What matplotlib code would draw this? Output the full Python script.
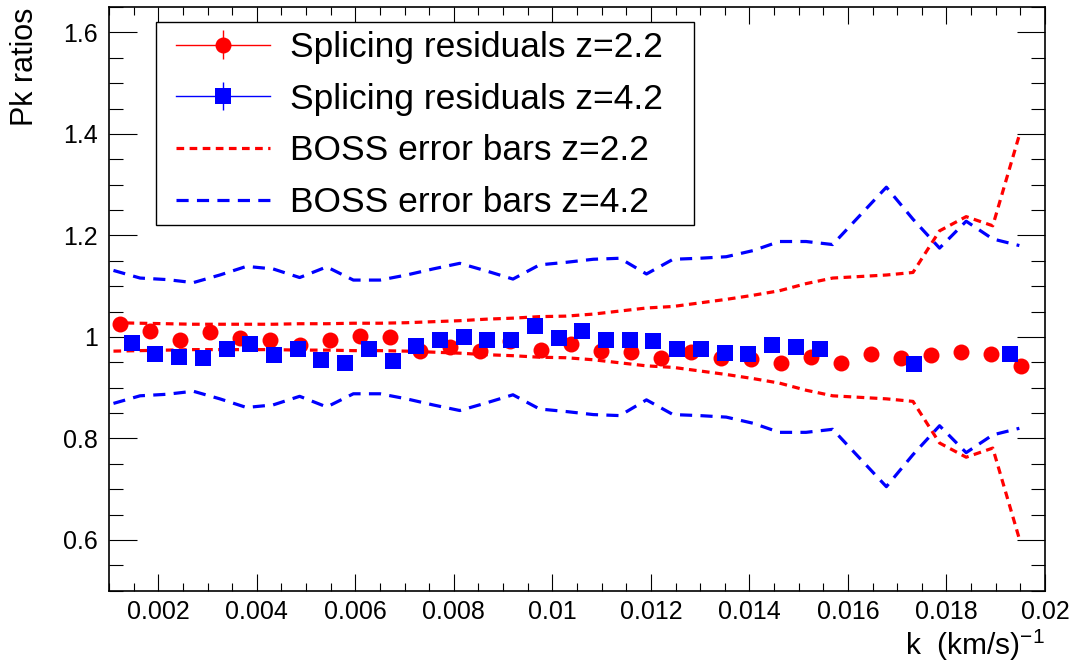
import numpy as np
import matplotlib
matplotlib.use('Agg')
import matplotlib.pyplot as plt
from matplotlib.ticker import MultipleLocator, FuncFormatter
from matplotlib.legend_handler import HandlerErrorbar
from matplotlib.patches import Rectangle

plt.rcParams['font.family'] = ['Liberation Sans', 'DejaVu Sans']
plt.rcParams['mathtext.fontset'] = 'custom'
plt.rcParams['mathtext.rm'] = 'Liberation Sans'

# splicing residuals, z=2.2 (red circles)
k_z22 = [0.00122, 0.00183, 0.00244, 0.00305, 0.00366, 0.00427, 0.00488, 0.00549,
         0.00610, 0.00671, 0.00732, 0.00793, 0.00854, 0.00915, 0.00976, 0.01037,
         0.01098, 0.01159, 0.01220, 0.01281, 0.01342, 0.01403, 0.01464, 0.01525,
         0.01586, 0.01647, 0.01708, 0.01769, 0.01830, 0.01891, 0.01952]
res_z22 = [1.026, 1.012, 0.994, 1.009, 0.997, 0.994, 0.984, 0.994,
           1.001, 0.999, 0.972, 0.980, 0.972, 0.992, 0.974, 0.986,
           0.972, 0.971, 0.959, 0.971, 0.959, 0.956, 0.949, 0.961,
           0.949, 0.967, 0.959, 0.964, 0.970, 0.966, 0.943]

# splicing residuals, z=4.2 (blue squares)
k_z42 = [0.00146, 0.00194, 0.00242, 0.00290, 0.00339, 0.00387, 0.00435, 0.00483,
         0.00531, 0.00579, 0.00628, 0.00676, 0.00724, 0.00772, 0.00820, 0.00868,
         0.00917, 0.00965, 0.01013, 0.01061, 0.01109, 0.01157, 0.01205, 0.01254,
         0.01302, 0.01350, 0.01398, 0.01446, 0.01494, 0.01543, 0.01735, 0.01929]
res_z42 = [0.989, 0.967, 0.961, 0.959, 0.976, 0.987, 0.965, 0.976,
           0.954, 0.949, 0.977, 0.953, 0.982, 0.994, 1.000, 0.994,
           0.994, 1.022, 0.997, 1.012, 0.994, 0.994, 0.992, 0.977,
           0.977, 0.969, 0.966, 0.984, 0.980, 0.976, 0.946, 0.966]

# BOSS relative errors
k_boss = [0.00109, 0.00163, 0.00217, 0.00271, 0.00325, 0.00379, 0.00433, 0.00487,
          0.00542, 0.00596, 0.00650, 0.00704, 0.00758, 0.00812, 0.00866, 0.00920,
          0.00974, 0.01028, 0.01083, 0.01137, 0.01191, 0.01245, 0.01299, 0.01353,
          0.01407, 0.01461, 0.01515, 0.01569, 0.01624, 0.01678, 0.01732, 0.01786,
          0.01840, 0.01894, 0.01948]
sig_z22 = [0.028, 0.027, 0.026, 0.025, 0.025, 0.025, 0.025, 0.026,
           0.026, 0.027, 0.027, 0.028, 0.030, 0.032, 0.035, 0.037,
           0.040, 0.041, 0.045, 0.051, 0.057, 0.060, 0.067, 0.074,
           0.082, 0.091, 0.105, 0.116, 0.119, 0.122, 0.127, 0.209,
           0.237, 0.219, 0.398]
sig_z42 = [0.131, 0.116, 0.113, 0.107, 0.122, 0.139, 0.134, 0.117,
           0.138, 0.112, 0.112, 0.122, 0.134, 0.145, 0.130, 0.114,
           0.142, 0.147, 0.153, 0.155, 0.124, 0.153, 0.155, 0.158,
           0.170, 0.188, 0.188, 0.182, 0.239, 0.295, 0.232, 0.175,
           0.228, 0.193, 0.180]

labels = ['Splicing residuals z=2.2', 'Splicing residuals z=4.2',
          'BOSS error bars z=2.2', 'BOSS error bars z=4.2']

fig = plt.figure(figsize=(10.71, 6.62), dpi=100)
ax = fig.add_axes([0.1018, 0.1077, 0.8739, 0.8817])

# points (drawn with a line for the legend, line removed afterwards)
e1 = ax.errorbar(k_z22, res_z22, yerr=np.zeros(len(k_z22)), fmt='-o', color='red',
                 ms=11.5, lw=1, elinewidth=1, capsize=0, mew=0)
e2 = ax.errorbar(k_z42, res_z42, yerr=np.zeros(len(k_z42)), fmt='-s', color='blue',
                 ms=11.3, lw=1, elinewidth=1, capsize=0, mew=0)

# BOSS envelopes 1 +/- sigma
kb = np.array(k_boss)
s22 = np.array(sig_z22)
s42 = np.array(sig_z42)
l3, = ax.plot(kb, 1 + s22, color='red', lw=2.3, dashes=(2.4, 1.7))
ax.plot(kb, 1 - s22, color='red', lw=2.3, dashes=(2.4, 1.7))
l4, = ax.plot(kb, 1 + s42, color='blue', lw=2.3, dashes=(3.8, 2.6))
ax.plot(kb, 1 - s42, color='blue', lw=2.3, dashes=(3.8, 2.6))

ax.set_xlim(0.001, 0.02)
ax.set_ylim(0.5, 1.65)

ax.xaxis.set_major_locator(MultipleLocator(0.002))
ax.xaxis.set_minor_locator(MultipleLocator(0.0005))
ax.yaxis.set_major_locator(MultipleLocator(0.2))
ax.yaxis.set_minor_locator(MultipleLocator(0.05))
fmt = FuncFormatter(lambda v, p: '%g' % round(v, 6))
ax.xaxis.set_major_formatter(fmt)
ax.yaxis.set_major_formatter(fmt)

ax.tick_params(which='both', direction='in', top=True, right=True, width=0.8,
               labelsize=18, colors='black')
ax.tick_params(axis='x', which='major', length=12, pad=7)
ax.tick_params(axis='x', which='minor', length=6)
ax.tick_params(axis='y', which='major', length=20, pad=8)
ax.tick_params(axis='y', which='minor', length=10)
for sp in ax.spines.values():
    sp.set_linewidth(1.2)

# legend frame drawn by hand, legend itself without frame
ax.add_patch(Rectangle((0.0502, 0.6265), 0.5748, 0.3475, transform=ax.transAxes,
                       facecolor='white', edgecolor='black', lw=1.0, zorder=4.9))
leg = ax.legend([e1, e2, l3, l4], labels, loc='upper left',
                bbox_to_anchor=(0.0502, 0.993), borderaxespad=0, borderpad=0.56,
                fontsize=25.5, frameon=False, handlelength=2.65, handletextpad=0.58,
                labelspacing=0.53,
                handler_map={type(e1): HandlerErrorbar(yerr_size=0.4)})
leg.set_zorder(5)
e1[0].set_linestyle('none')
e2[0].set_linestyle('none')

fig.text(1045 / 1071, 0.0106, 'k  (km/s)$^{\\mathregular{-1}}$', ha='right',
         va='baseline', fontsize=21.5)
fig.text(25 / 1071, 1 - 8 / 662, 'Pk ratios', rotation=90, ha='center', va='top',
         fontsize=22)

fig.savefig('out.png', dpi=100)
